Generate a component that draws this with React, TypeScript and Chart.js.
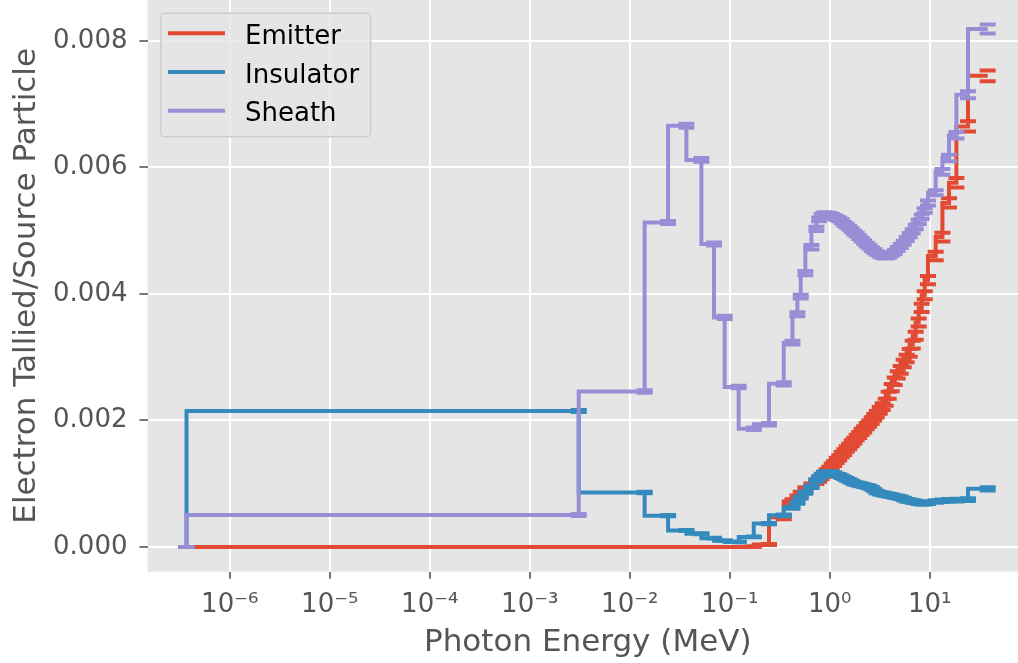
import React, { useEffect, useRef } from 'react';
import { Chart, registerables } from 'chart.js';

Chart.register(...registerables);

// Bin upper edges (MeV); first entry is the lower edge of the first bin
const ENERGY_EDGES = [
  3.7e-7, 3.09e-3, 0.0141, 0.0242, 0.0369, 0.0521, 0.0697, 0.0891, 0.123, 0.174, 0.247, 0.347, 0.424, 0.475, 0.513, 0.571, 0.656, 0.736,
  0.785, 0.832, 0.881, 0.933, 0.989, 1.047, 1.109, 1.175, 1.245, 1.318, 1.396, 1.479, 1.567, 1.66, 1.758, 1.862, 1.972, 2.089, 2.213, 2.344, 2.483, 2.63, 2.786, 2.951,
  3.162, 3.388, 3.631, 3.89, 4.169, 4.467, 4.786, 5.129, 5.495, 5.888, 6.31, 6.761, 7.244, 7.762, 8.318, 8.913,
  9.616, 11.48, 13.4, 15.6, 18.49, 24.15, 38.0,
];

// Values in units of 1e-3 electrons tallied per source particle
const EMITTER = [
  0, 0, 0, 0, 0, 0, 0, 0, 0, 0.005, 0.04, 0.47, 0.72, 0.78, 0.84, 0.91, 0.97, 1.03,
  1.07, 1.11, 1.15, 1.19, 1.23, 1.28, 1.32, 1.37, 1.41, 1.46, 1.5, 1.55, 1.59, 1.64, 1.68, 1.73, 1.77, 1.82, 1.86, 1.91, 1.95, 2.0, 2.05, 2.1,
  2.16, 2.22, 2.29, 2.4, 2.52, 2.62, 2.72, 2.8, 2.9, 2.98, 3.07, 3.2, 3.34, 3.55, 3.78, 3.98,
  4.22, 4.6, 4.9, 5.44, 5.76, 6.65, 7.45,
];
const EMITTER_ERR = [
  0, 0, 0, 0, 0, 0, 0, 0, 0, 0.003, 0.008, 0.03, 0.035, 0.035, 0.035, 0.035, 0.035, 0.035,
  0.038, 0.038, 0.038, 0.04, 0.04, 0.04, 0.04, 0.042, 0.042, 0.042, 0.044, 0.044, 0.044, 0.046, 0.046, 0.046, 0.048, 0.048, 0.048, 0.05, 0.05, 0.05, 0.052, 0.052,
  0.054, 0.054, 0.055, 0.056, 0.057, 0.058, 0.058, 0.06, 0.06, 0.061, 0.062, 0.062, 0.063, 0.064, 0.065, 0.065,
  0.066, 0.068, 0.07, 0.072, 0.075, 0.08, 0.085,
];

const INSULATOR = [
  0, 2.15, 0.86, 0.495, 0.26, 0.21, 0.14, 0.1, 0.08, 0.16, 0.37, 0.5, 0.62, 0.7, 0.78, 0.86, 0.95, 1.05,
  1.1, 1.14, 1.17, 1.18, 1.18, 1.17, 1.16, 1.14, 1.13, 1.11, 1.09, 1.07, 1.05, 1.03, 1.01, 1.0, 0.99, 0.98, 0.97, 0.96, 0.95, 0.93, 0.9, 0.87,
  0.85, 0.84, 0.83, 0.82, 0.81, 0.8, 0.79, 0.78, 0.76, 0.74, 0.73, 0.72, 0.71, 0.7, 0.69, 0.69,
  0.7, 0.72, 0.73, 0.74, 0.74, 0.75, 0.92,
];
const INSULATOR_ERR = [
  0, 0.015, 0.012, 0.01, 0.008, 0.007, 0.006, 0.005, 0.005, 0.007, 0.01, 0.012, 0.015, 0.015, 0.015, 0.018, 0.018, 0.02,
  0.02, 0.02, 0.02, 0.02, 0.02, 0.02, 0.02, 0.02, 0.02, 0.02, 0.02, 0.02, 0.02, 0.02, 0.02, 0.02, 0.02, 0.02, 0.02, 0.02, 0.02, 0.02, 0.02, 0.02,
  0.02, 0.02, 0.02, 0.02, 0.02, 0.02, 0.02, 0.02, 0.02, 0.02, 0.02, 0.02, 0.02, 0.02, 0.02, 0.02,
  0.02, 0.02, 0.02, 0.02, 0.022, 0.022, 0.025,
];

const SHEATH = [
  0, 0.506, 2.46, 5.13, 6.66, 6.12, 4.79, 3.63, 2.53, 1.87, 1.94, 2.58, 3.23, 3.68, 3.96, 4.33, 4.74, 5.03,
  5.18, 5.24, 5.26, 5.26, 5.25, 5.24, 5.22, 5.2, 5.18, 5.15, 5.11, 5.08, 5.05, 5.01, 4.97, 4.94, 4.9, 4.86, 4.82, 4.78, 4.75, 4.71, 4.68, 4.65,
  4.62, 4.6, 4.59, 4.6, 4.63, 4.66, 4.71, 4.76, 4.81, 4.87, 4.93, 4.99, 5.06, 5.14, 5.22, 5.32,
  5.44, 5.6, 5.93, 6.15, 6.51, 7.15, 8.19,
];
const SHEATH_ERR = [
  0, 0.015, 0.02, 0.025, 0.03, 0.03, 0.025, 0.025, 0.02, 0.02, 0.02, 0.025, 0.03, 0.03, 0.03, 0.035, 0.035, 0.035,
  0.03, 0.03, 0.03, 0.03, 0.03, 0.03, 0.03, 0.03, 0.03, 0.03, 0.03, 0.03, 0.03, 0.03, 0.03, 0.03, 0.03, 0.03, 0.03, 0.03, 0.03, 0.03, 0.03, 0.03,
  0.03, 0.03, 0.03, 0.03, 0.03, 0.03, 0.032, 0.032, 0.033, 0.033, 0.034, 0.034, 0.035, 0.035, 0.036, 0.036,
  0.04, 0.04, 0.045, 0.05, 0.05, 0.055, 0.07,
];

const UNIT = 1e-3;
const SERIES_NAMES = ['Emitter', 'Insulator', 'Sheath'];
const X_TICKS = [1e-6, 1e-5, 1e-4, 1e-3, 1e-2, 1e-1, 1, 10];
const X_TICK_LABELS = ['10⁻⁶', '10⁻⁵', '10⁻⁴', '10⁻³', '10⁻²', '10⁻¹', '10⁰', '10¹'];
const Y_TICKS = [0, 0.002, 0.004, 0.006, 0.008];

const COLORS = ['#E24A33', '#348ABD', '#988ED5'];
const FONT = 'DejaVu Sans';

const panelBg = {
  id: 'panelBg',
  beforeDraw(chart: any) {
    const { ctx, chartArea } = chart;
    ctx.save();
    ctx.fillStyle = '#E5E5E5';
    ctx.fillRect(chartArea.left, chartArea.top, chartArea.right - chartArea.left, chartArea.bottom - chartArea.top);
    ctx.restore();
  },
};

const insetLegend = {
  id: 'insetLegend',
  afterDatasetsDraw(chart: any) {
    const { ctx, chartArea } = chart;
    const x0 = chartArea.left + 13.2;
    const y0 = chartArea.top + 13.3;
    const w = 210;
    const h = 123.4;
    ctx.save();
    ctx.beginPath();
    if (ctx.roundRect) ctx.roundRect(x0, y0, w, h, 4);
    else ctx.rect(x0, y0, w, h);
    ctx.fillStyle = 'rgba(229,229,229,0.8)';
    ctx.fill();
    ctx.strokeStyle = '#CCCCCC';
    ctx.lineWidth = 1.5;
    ctx.stroke();
    const items = chart.data.datasets.filter((d: any) => !d.isCap);
    items.forEach((d: any, i: number) => {
      const y = y0 + 20 + i * 38.7;
      ctx.strokeStyle = d.borderColor;
      ctx.lineWidth = 4;
      ctx.lineCap = 'butt';
      ctx.beginPath();
      ctx.moveTo(x0 + 7.3, y);
      ctx.lineTo(x0 + 64.3, y);
      ctx.stroke();
      ctx.fillStyle = '#000000';
      ctx.font = `26px "${FONT}"`;
      ctx.textAlign = 'left';
      ctx.textBaseline = 'alphabetic';
      ctx.fillText(d.label, x0 + 84.3, y + 10.5);
    });
    ctx.restore();
  },
};

function buildDatasets() {
  const series = [
    { vals: EMITTER, err: EMITTER_ERR },
    { vals: INSULATOR, err: INSULATOR_ERR },
    { vals: SHEATH, err: SHEATH_ERR },
  ];
  const lines: any[] = [];
  const caps: any[] = [];
  series.forEach((s, k) => {
    const base = (2 - k) * 2;
    const color = COLORS[k];
    lines.push({
      label: SERIES_NAMES[k],
      data: ENERGY_EDGES.map((x, i) => ({ x, y: s.vals[i] * UNIT })),
      showLine: true,
      stepped: 'after',
      borderColor: color,
      backgroundColor: color,
      borderWidth: 4,
      borderCapStyle: 'butt',
      borderJoinStyle: 'miter',
      pointRadius: 0,
      pointHoverRadius: 0,
      fill: false,
      order: base + 1,
    });
    const up = ENERGY_EDGES.map((x, i) => ({ x, y: (s.vals[i] + s.err[i]) * UNIT }));
    const dn = ENERGY_EDGES.map((x, i) => ({ x, y: (s.vals[i] - s.err[i]) * UNIT }));
    caps.push({
      label: SERIES_NAMES[k] + ' error',
      isCap: true,
      data: up.concat(dn),
      showLine: false,
      pointStyle: 'line',
      pointRadius: 8,
      pointHoverRadius: 8,
      borderColor: color,
      pointBorderColor: color,
      pointBorderWidth: 4,
      borderWidth: 4,
      order: base,
    });
  });
  return lines.concat(caps);
}

export default function App() {
  const ref = useRef<HTMLCanvasElement | null>(null);

  useEffect(() => {
    document.body.style.margin = '0';
    const canvas = ref.current;
    if (!canvas) return;
    Chart.defaults.font.family = FONT;
    const chart = new Chart(canvas, {
      type: 'scatter',
      data: { datasets: buildDatasets() },
      options: {
        animation: false,
        responsive: false,
        devicePixelRatio: 1,
        events: [],
        layout: { padding: 0, autoPadding: false },
        plugins: {
          legend: { display: false },
          tooltip: { enabled: false },
        },
        scales: {
          x: {
            type: 'logarithmic',
            position: 'bottom',
            min: Math.pow(10, -6.822),
            max: Math.pow(10, 1.983),
            afterBuildTicks: (axis: any) => {
              axis.ticks = X_TICKS.map((v) => ({ value: v }));
            },
            afterFit: (axis: any) => {
              axis.height = 91.3;
              axis.paddingLeft = 0;
              axis.paddingRight = 0;
            },
            ticks: {
              autoSkip: false,
              maxRotation: 0,
              minRotation: 0,
              padding: 11,
              color: '#555555',
              font: { size: 26, family: FONT },
              callback: (_v: any, i: number) => X_TICK_LABELS[i],
            },
            grid: {
              color: '#FFFFFF',
              lineWidth: 2,
              drawTicks: true,
              tickLength: 7,
              tickColor: '#555555',
              tickWidth: 1.6,
            },
            border: { display: false },
            title: {
              display: true,
              text: 'Photon Energy (MeV)',
              color: '#555555',
              font: { size: 31, family: FONT, lineHeight: 1 },
              padding: { top: 0, bottom: 5 },
            },
          },
          y: {
            type: 'linear',
            min: -0.3905e-3,
            max: 8.648e-3,
            afterBuildTicks: (axis: any) => {
              axis.ticks = Y_TICKS.map((v) => ({ value: v }));
            },
            afterFit: (axis: any) => {
              axis.width = 147.5;
              axis.paddingTop = 0;
              axis.paddingBottom = 0;
            },
            ticks: {
              padding: 12,
              color: '#555555',
              font: { size: 26, family: FONT },
              callback: (v: any) => Number(v).toFixed(3),
            },
            grid: {
              color: '#FFFFFF',
              lineWidth: 2,
              drawTicks: true,
              tickLength: 8,
              tickColor: '#555555',
              tickWidth: 1.6,
            },
            border: { display: false },
            title: {
              display: true,
              text: 'Electron Tallied/Source Particle',
              color: '#555555',
              font: { size: 31, family: FONT, lineHeight: 1 },
              padding: { top: 11, bottom: 0 },
            },
          },
        },
      },
      plugins: [panelBg, insetLegend],
    } as any);
    return () => chart.destroy();
  }, []);

  return (
    <div style={{ width: 1018, height: 663, overflow: 'hidden', position: 'relative', background: '#FFFFFF' }}>
      <canvas ref={ref} width={1028} height={663} style={{ display: 'block', width: 1028, height: 663 }} />
    </div>
  );
}
